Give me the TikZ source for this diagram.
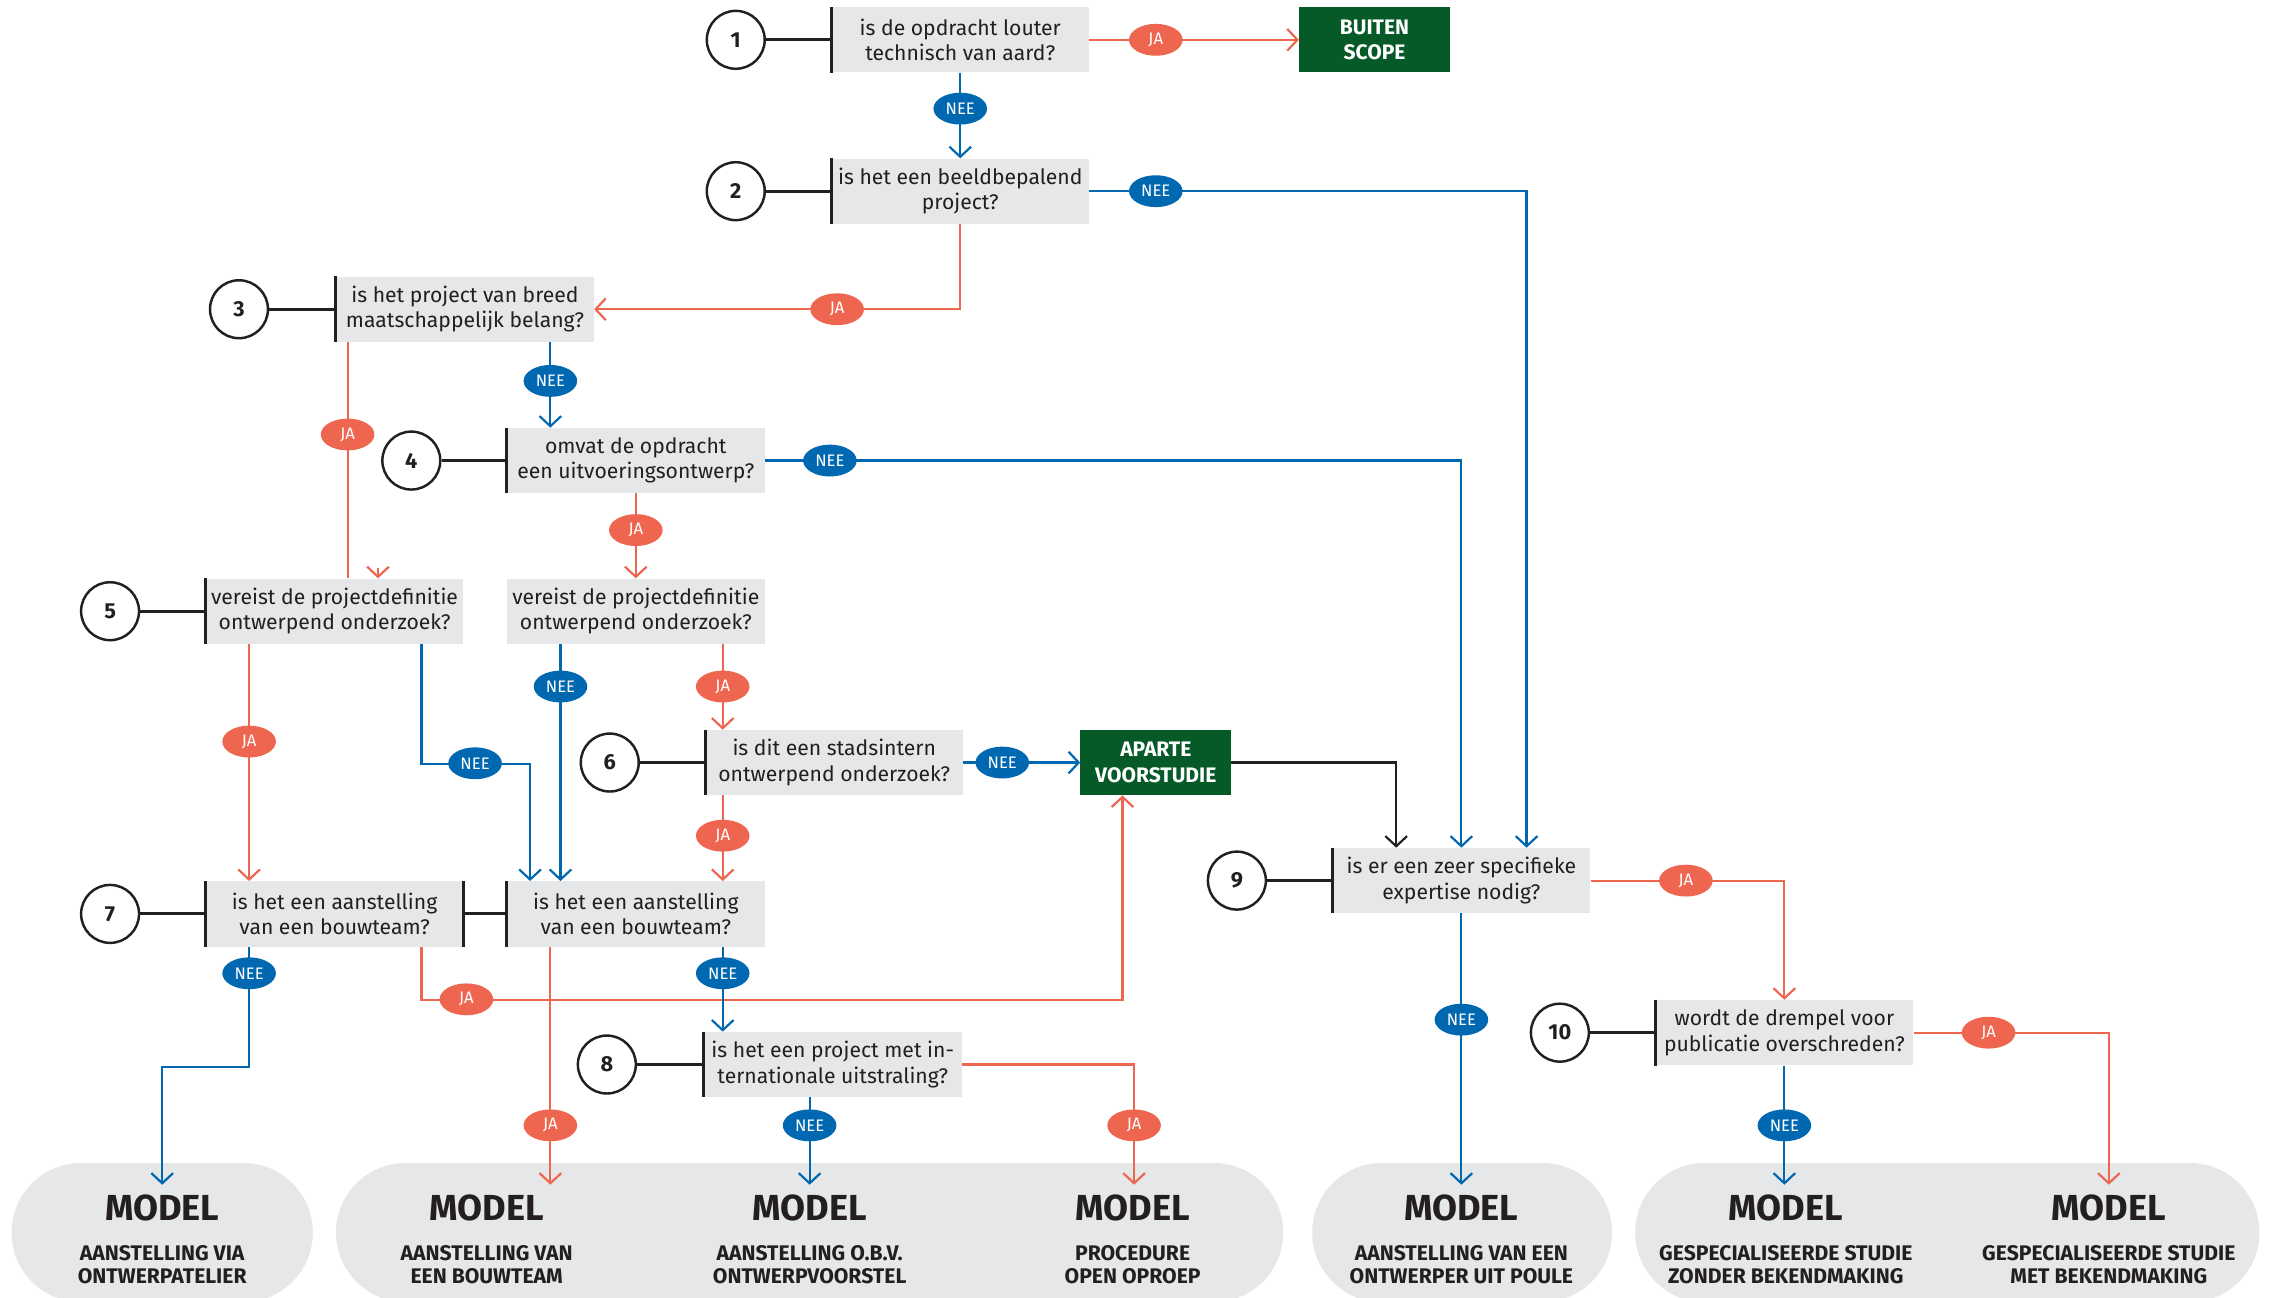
\documentclass[tikz,border=0pt]{standalone}
\usepackage{fontspec}
\setmainfont{Fira Sans}
\usetikzlibrary{arrows.meta,shapes.geometric,calc}
\definecolor{orng}{RGB}{239,102,80}
\definecolor{blu}{RGB}{0,103,177}
\definecolor{grn}{RGB}{6,90,40}
\definecolor{boxg}{RGB}{230,231,232}
\definecolor{txt}{RGB}{35,31,32}
\begin{document}
\begin{tikzpicture}[x=1pt,y=-1pt,
 qbox/.style={rectangle, fill=boxg, minimum width=178pt, minimum height=45pt, inner sep=0pt, align=center, text=txt, font=\fontsize{14.6}{17.5}\selectfont},
 outc/.style={rectangle, fill=grn, minimum width=104pt, minimum height=45pt, inner sep=0pt, align=center, text=white, font=\bfseries\fontsize{14.5}{17.5}\selectfont},
 numbox/.style={circle, draw=txt, line width=1.7pt, minimum size=40pt, inner sep=0pt, font=\bfseries\fontsize{15}{15}\selectfont, text=txt, fill=white},
 jalab/.style={ellipse, fill=orng, minimum width=37pt, minimum height=22pt, inner sep=0pt, text=white, font=\fontsize{11.5}{11.5}\selectfont},
 neelab/.style={jalab, fill=blu},
 oline/.style={draw=orng, line width=1.5pt},
 bline/.style={draw=blu, line width=1.5pt},
 kline/.style={draw=txt, line width=1.5pt},
 kconn/.style={draw=txt, line width=2pt},
 arr/.style={-{Straight Barb[length=7pt,width=15pt]}},
 pill/.style={fill=boxg, rounded corners=48pt},
 mtitle/.style={font=\bfseries\fontsize{25}{25}\selectfont, text=txt, anchor=base, inner sep=0pt},
 msub/.style={font=\bfseries\fontsize{14.6}{16.5}\selectfont, text=txt, anchor=base, inner sep=0pt},
]
\useasboundingbox (0,0) rectangle (1568,896);
\fill[white] (0,0) rectangle (1568,896);

% bottom pills
\fill[pill] (8,803) rectangle (216,899);
\fill[pill] (232,803) rectangle (886,899);
\fill[pill] (906,803) rectangle (1113,899);
\fill[pill] (1129,803) rectangle (1560,899);

% question boxes
\node[qbox] (q1) at (663,27.5) {is de opdracht louter\\technisch van aard?};
\node[qbox] (q2) at (663,132) {is het een beeldbepalend\\project?};
\node[qbox] (q3) at (321,213.5) {is het project van breed\\maatschappelijk belang?};
\node[qbox] (q4) at (439,318) {omvat de opdracht\\een uitvoeringsontwerp?};
\node[qbox] (q5) at (231,422) {vereist de projectdefinitie\\ontwerpend onderzoek?};
\node[qbox] (q5b) at (439,422) {vereist de projectdefinitie\\ontwerpend onderzoek?};
\node[qbox] (q6) at (576,526.5) {is dit een stadsintern\\ontwerpend onderzoek?};
\node[qbox] (q7) at (231,631) {is het een aanstelling\\van een bouwteam?};
\node[qbox] (q7b) at (439,631) {is het een aanstelling\\van een bouwteam?};
\node[qbox] (q8) at (575,735) {is het een project met in-\\ternationale uitstraling?};
\node[qbox] (q9) at (1009,608) {is er een zeer specifieke\\expertise nodig?};
\node[qbox] (q10) at (1232,713) {wordt de drempel voor\\publicatie overschreden?};

\node[outc] (buiten) at (949,27.5) {BUITEN\\SCOPE};
\node[outc] (aparte) at (798,526.5) {APARTE\\VOORSTUDIE};

% number circles
\node[numbox] (c1) at (508,27.5) {1};
\node[numbox] (c2) at (508,132) {2};
\node[numbox] (c3) at (165,213.5) {3};
\node[numbox] (c4) at (284,318) {4};
\node[numbox] (c5) at (76,422) {5};
\node[numbox] (c6) at (421,526.5) {6};
\node[numbox] (c7) at (76,631) {7};
\node[numbox] (c8) at (419,735) {8};
\node[numbox] (c9) at (854,608) {9};
\node[numbox] (c10) at (1077,713) {10};

% black connectors and bars
\foreach \c/\q in {c1/q1,c2/q2,c3/q3,c4/q4,c5/q5,c6/q6,c7/q7,c8/q8,c9/q9,c10/q10}{
  \draw[kconn] (\c) -- (\q);
  \draw[kconn] (\q.north west) -- (\q.south west);
}
\draw[kconn] (q7.north east) -- (q7.south east);
\draw[kconn] (q7b.north west) -- (q7b.south west);
\draw[kconn] (q7) -- (q7b);

% model arrow targets
\coordinate (t1) at (112,818);
\coordinate (t2) at (380,818);
\coordinate (t3) at (559,818);
\coordinate (t4) at (783,818);
\coordinate (t5) at (1009,818);
\coordinate (t6) at (1232,818);
\coordinate (t7) at (1456,818);

% connectors
\draw[oline,arr] (q1) -- (buiten);
\draw[bline,arr] (q1) -- (q2);
\draw[bline,arr] (q2.east) -| ([xshift=45pt]q9.north);
\draw[oline,arr] (q2.south) |- (q3.east);
\draw[bline,arr] ([xshift=59pt]q3.south) -- ([xshift=-59pt]q4.north);
\draw[oline] ([xshift=-81pt]q3.south) -- ([xshift=9pt]q5.north);
\draw[oline,arr] ([xshift=30pt,yshift=7pt]q5.north) -- ([xshift=30pt]q5.north);
\draw[bline,arr] (q4.east) -| (q9.north);
\draw[oline,arr] (q4) -- (q5b);
\draw[oline,arr] ([xshift=-59pt]q5.south) -- ([xshift=-59pt]q7.north);
\draw[bline,arr] ([xshift=60pt]q5.south) -- ++(0,83) -| ([xshift=-73pt]q7b.north);
\draw[bline,arr] ([xshift=-52pt]q5b.south) -- ([xshift=-52pt]q7b.north);
\draw[oline,arr] ([xshift=60pt]q5b.south) -- ([xshift=-77pt]q6.north);
\draw[bline,arr] (q6) -- (aparte);
\draw[oline,arr] ([xshift=-77pt]q6.south) -- ([xshift=60pt]q7b.north);
\draw[kline,arr] (aparte.east) -| ([xshift=-45pt]q9.north);
\draw[bline,arr] ([xshift=-59pt]q7.south) -- ++(0,83) -| (t1);
\draw[oline,arr] ([xshift=60pt]q7.south) -- ++(0,37) -| ([xshift=-23pt]aparte.south);
\draw[oline,arr] ([xshift=-59pt]q7b.south) -- (t2);
\draw[bline,arr] ([xshift=60pt]q7b.south) -- ([xshift=-76pt]q8.north);
\draw[bline,arr] ([xshift=-16pt]q8.south) -- (t3);
\draw[oline,arr] (q8.east) -| (t4);
\draw[bline,arr] (q9.south) -- (t5);
\draw[oline,arr] (q9.east) -| (q10.north);
\draw[bline,arr] (q10.south) -- (t6);
\draw[oline,arr] (q10.east) -| (t7);

% labels
\node[jalab] (j1) at (798,27.5) {JA};
\node[jalab] (j2) at (578,213.5) {JA};
\node[jalab] (j3) at (240,300) {JA};
\node[jalab] (j4) at (439,366) {JA};
\node[jalab] (j5) at (172,512) {JA};
\node[jalab] (j6) at (499,474) {JA};
\node[jalab] (j7) at (499,577) {JA};
\node[jalab] (j8) at (322,690) {JA};
\node[jalab] (j9) at (380,777) {JA};
\node[jalab] (j10) at (783,777) {JA};
\node[jalab] (j11) at (1164,608) {JA};
\node[jalab] (j12) at (1373,713) {JA};
\node[neelab] (n1) at (663,75) {NEE};
\node[neelab] (n2) at (798,132) {NEE};
\node[neelab] (n3) at (380,263) {NEE};
\node[neelab] (n4) at (573,318) {NEE};
\node[neelab] (n5) at (328,527) {NEE};
\node[neelab] (n6) at (387,474) {NEE};
\node[neelab] (n7) at (692,526.5) {NEE};
\node[neelab] (n8) at (172,672) {NEE};
\node[neelab] (n9) at (499,672) {NEE};
\node[neelab] (n10) at (559,777) {NEE};
\node[neelab] (n11) at (1009,704) {NEE};
\node[neelab] (n12) at (1232,777) {NEE};

% model texts
\node[mtitle] (m1) at (112,843) {MODEL};
\node[msub] (m1a) at (112,870) {AANSTELLING VIA};
\node[msub] (m1b) at (112,886.5) {ONTWERPATELIER};
\node[mtitle] (m2) at (336,843) {MODEL};
\node[msub] (m2a) at (336,870) {AANSTELLING VAN};
\node[msub] (m2b) at (336,886.5) {EEN BOUWTEAM};
\node[mtitle] (m3) at (559,843) {MODEL};
\node[msub] (m3a) at (559,870) {AANSTELLING O.B.V.};
\node[msub] (m3b) at (559,886.5) {ONTWERPVOORSTEL};
\node[mtitle] (m4) at (782,843) {MODEL};
\node[msub] (m4a) at (782,870) {PROCEDURE};
\node[msub] (m4b) at (782,886.5) {OPEN OPROEP};
\node[mtitle] (m5) at (1009,843) {MODEL};
\node[msub] (m5a) at (1009,870) {AANSTELLING VAN EEN};
\node[msub] (m5b) at (1009,886.5) {ONTWERPER UIT POULE};
\node[mtitle] (m6) at (1233,843) {MODEL};
\node[msub] (m6a) at (1233,870) {GESPECIALISEERDE STUDIE};
\node[msub] (m6b) at (1233,886.5) {ZONDER BEKENDMAKING};
\node[mtitle] (m7) at (1456,843) {MODEL};
\node[msub] (m7a) at (1456,870) {GESPECIALISEERDE STUDIE};
\node[msub] (m7b) at (1456,886.5) {MET BEKENDMAKING};
\end{tikzpicture}
\end{document}
